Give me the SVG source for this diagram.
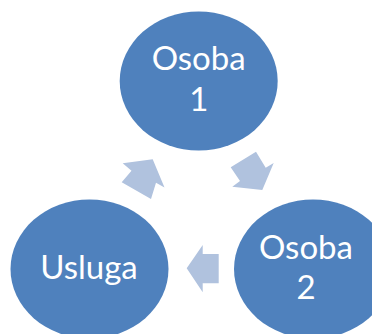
<svg xmlns="http://www.w3.org/2000/svg" width="372" height="334" viewBox="0 0 372 334">
<style>
.n{fill:#4f81bd}
.a{fill:#b0c2de}
text{fill:#fff;font-family:Lato,"Open Sans",sans-serif;font-size:33px;text-anchor:middle}
</style>
<rect width="372" height="334" fill="#fff"/>
<g id="connectors">
<polygon class="a" points="122.7,163.3 152.7,159.3 164.5,187.5 156,182.7 151,199 121.7,182.3 131.5,170.7"/>
<polygon class="a" points="256,151.7 265.7,167.7 273.7,163 262.3,190 232.3,186.7 240,181 230.7,167.3"/>
<polygon class="a" points="186.7,268.3 202.7,245 202.7,254 218.7,254 218.7,283.3 202.7,283.3 202.7,292.3"/>
</g>
<g id="osoba1"><ellipse class="n" cx="198.7" cy="81" rx="79" ry="69.5"/><text x="198.7" y="70">Osoba</text><text x="198.7" y="111">1</text></g>
<g id="osoba2"><ellipse class="n" cx="313" cy="269" rx="79" ry="69.5"/><text x="306" y="258.5">Osoba</text><text x="306" y="298.5">2</text></g>
<g id="usluga"><ellipse class="n" cx="89.5" cy="269" rx="79" ry="69.5"/><text x="89" y="278.5">Usluga</text></g>
</svg>
